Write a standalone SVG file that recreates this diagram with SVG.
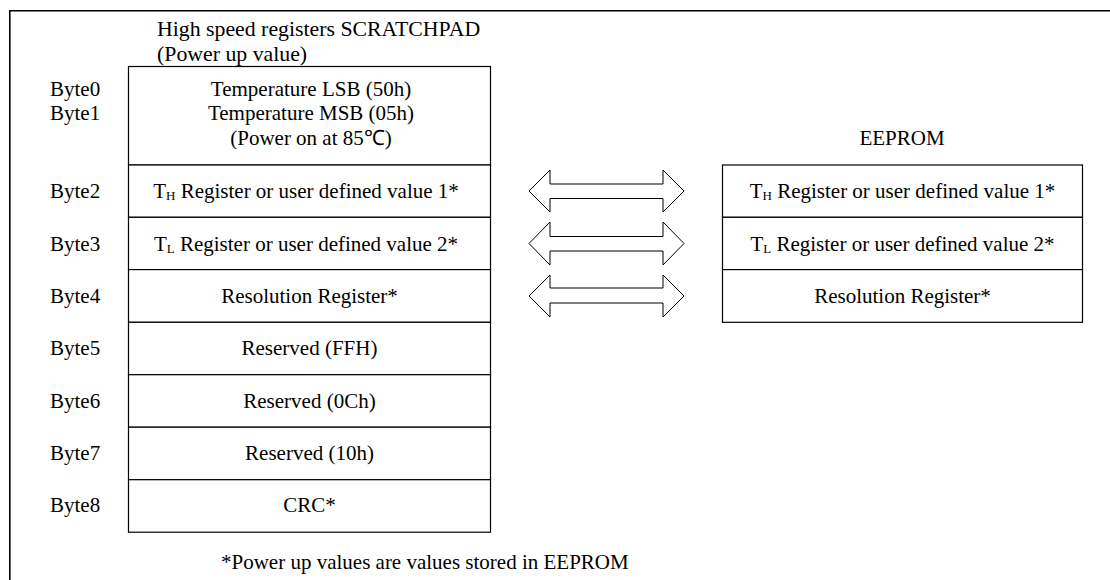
<svg xmlns="http://www.w3.org/2000/svg" width="1110" height="580" viewBox="0 0 1110 580">
<style>
text{font-family:"Liberation Serif","Times New Roman",serif;font-size:21px;fill:#000}
.c{text-anchor:middle}
.t{font-size:21.8px}
.cell{fill:#fff;stroke:#000;stroke-width:1.2}
.frame{fill:none;stroke:#000;stroke-width:1.6}
.arrow{fill:#fff;stroke:#000;stroke-width:1}
.sub{font-size:13px}
</style>
<rect width="1110" height="580" fill="#fff"/>
<path class="frame" d="M9.8,580 V10.8 H1110"/>
<text class="t" x="157" y="36">High speed registers SCRATCHPAD</text>
<text class="t" x="157" y="61">(Power up value)</text>
<text x="902" y="145" class="c">EEPROM</text>
<g id="labels">
<text x="50" y="96">Byte0</text>
<text x="50" y="119.5">Byte1</text>
<text x="50" y="198">Byte2</text>
<text x="50" y="250.5">Byte3</text>
<text x="50" y="303">Byte4</text>
<text x="50" y="355">Byte5</text>
<text x="50" y="407.5">Byte6</text>
<text x="50" y="460">Byte7</text>
<text x="50" y="512">Byte8</text>
</g>
<g id="byte01"><rect class="cell" x="128.5" y="66.5" width="362" height="98.5"/>
<text x="311" y="96" class="c">Temperature LSB (50h)</text>
<text x="311" y="119.5" class="c">Temperature MSB (05h)</text>
<text x="311" y="145" class="c">(Power on at 85℃)</text></g>
<g id="byte2"><rect class="cell" x="128.5" y="165" width="362" height="52.3"/>
<text x="306" y="198" class="c">T<tspan class="sub" dy="2">H</tspan><tspan dy="-2"> Register or user defined value 1*</tspan></text></g>
<g id="byte3"><rect class="cell" x="128.5" y="217.3" width="362" height="52.3"/>
<text x="306" y="250.5" class="c">T<tspan class="sub" dy="2">L</tspan><tspan dy="-2"> Register or user defined value 2*</tspan></text></g>
<g id="byte4"><rect class="cell" x="128.5" y="269.6" width="362" height="52.7"/>
<text x="309.5" y="303" class="c">Resolution Register*</text></g>
<g id="byte5"><rect class="cell" x="128.5" y="322.3" width="362" height="52.4"/>
<text x="309.5" y="355" class="c">Reserved (FFH)</text></g>
<g id="byte6"><rect class="cell" x="128.5" y="374.7" width="362" height="52.5"/>
<text x="309.5" y="407.5" class="c">Reserved (0Ch)</text></g>
<g id="byte7"><rect class="cell" x="128.5" y="427.2" width="362" height="52.5"/>
<text x="309.5" y="460" class="c">Reserved (10h)</text></g>
<g id="byte8"><rect class="cell" x="128.5" y="479.7" width="362" height="52.5"/>
<text x="309.5" y="512" class="c">CRC*</text></g>
<g id="ee-th"><rect class="cell" x="722.5" y="165" width="360" height="52.3"/>
<text x="902.5" y="198" class="c">T<tspan class="sub" dy="2">H</tspan><tspan dy="-2"> Register or user defined value 1*</tspan></text></g>
<g id="ee-tl"><rect class="cell" x="722.5" y="217.3" width="360" height="52.3"/>
<text x="902.5" y="250.5" class="c">T<tspan class="sub" dy="2">L</tspan><tspan dy="-2"> Register or user defined value 2*</tspan></text></g>
<g id="ee-res"><rect class="cell" x="722.5" y="269.6" width="360" height="52.7"/>
<text x="902.5" y="303" class="c">Resolution Register*</text></g>
<g id="connectors">
<path class="arrow" d="M529,191 L550,170 V184 H663 V170 L684,191 L663,212 V198.5 H550 V212 Z"/>
<path class="arrow" d="M529,243.5 L550,222 V236.5 H663 V222 L684,243.5 L663,265 V251 H550 V265 Z"/>
<path class="arrow" d="M529,296 L550,275 V288 H663 V275 L684,296 L663,317 V303 H550 V317 Z"/>
</g>
<text x="221" y="569">*Power up values are values stored in EEPROM</text>
</svg>
